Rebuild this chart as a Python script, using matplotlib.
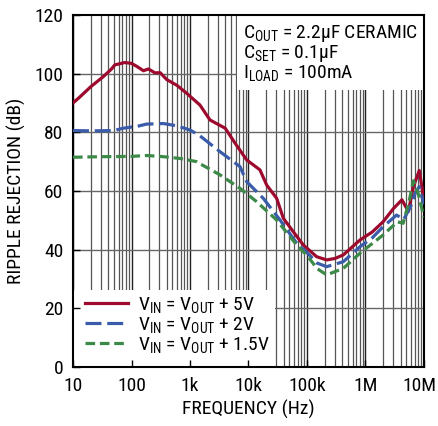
import numpy as np
import matplotlib
matplotlib.use('Agg')
import matplotlib.pyplot as plt
from matplotlib import font_manager
from matplotlib.patches import Rectangle
from matplotlib.transforms import ScaledTranslation

# pick a narrow sans if one is there
names = {f.name for f in font_manager.fontManager.ttflist}
cond = [(f.name, f.stretch) for f in font_manager.fontManager.ttflist
        if 'ondensed' in str(f.stretch) or 'arrow' in f.name or 'ondensed' in f.name]
font = 'Liberation Sans'
fs = 11.5
stretch = 'normal'
for cand in ['Liberation Sans Narrow', 'DejaVu Sans Condensed', 'Roboto Condensed']:
    if cand in names:
        font, fs = cand, 14
        break
else:
    for n, s in cond:
        font, fs, stretch = n, 14, 'condensed'
        break

plt.rcParams['font.family'] = [font, 'DejaVu Sans']
plt.rcParams['font.stretch'] = stretch
plt.rcParams['mathtext.fontset'] = 'custom'
plt.rcParams['mathtext.rm'] = font
plt.rcParams['mathtext.it'] = font
plt.rcParams['mathtext.bf'] = font

# ripple rejection vs frequency
f_5v = [10, 13, 20, 33, 45, 52, 77, 100, 125, 160, 195, 250, 310, 400, 600, 880,
        1480, 2200, 4000, 5900, 9300, 15700, 20500, 30300, 39400, 58400, 86500,
        146e3, 217e3, 300e3, 417e3, 805e3, 1.3e6, 2.0e6, 3.0e6, 4.2e6, 5.4e6,
        6.6e6, 8.3e6, 10e6]
db_5v = [90, 92, 95.5, 99, 101.5, 103, 103.8, 103.5, 102.4, 101, 101.6, 100.3,
         100.3, 98, 96, 93.3, 89.3, 84.2, 81.4, 76.3, 70.6, 67.2, 62, 57.5, 50.7,
         46.1, 41.6, 37.6, 36.5, 37, 38.2, 43.3, 46, 49.5, 54, 57, 53, 61.5, 67,
         57]

f_2v = [10, 20, 50, 72, 100, 123, 180, 350, 600, 1000, 1480, 3260, 7160, 9300,
        17900, 34600, 66700, 100e3, 150e3, 217e3, 417e3, 805e3, 1.3e6, 2.0e6,
        3.4e6, 4.5e6, 6.0e6, 7.0e6, 8.3e6, 10e6]
db_2v = [80.6, 80.5, 80.6, 81.4, 81.8, 82, 82.8, 83, 82.2, 80.8, 78.8, 73.4,
         68.3, 63.2, 57.5, 50.1, 42.2, 39, 35.4, 34.2, 35.9, 41, 44, 47.8, 51.8,
         50.3, 55, 59, 61.5, 55.5]

f_15v = [10, 30, 100, 181, 350, 670, 1300, 1480, 3260, 7160, 13700, 30300,
         66700, 100e3, 150e3, 217e3, 417e3, 805e3, 2.0e6, 3.5e6, 4.4e6, 5.5e6,
         6.6e6, 8.0e6, 10e6]
db_15v = [71.5, 71.7, 71.8, 72.1, 71.7, 71.1, 70, 69.3, 65.5, 60.9, 56.4, 50.1,
          41.6, 38, 33.5, 31.4, 33.6, 38.8, 45, 49.5, 49, 56, 63.5, 59, 51]

xticks = [10, 100, 1e3, 1e4, 1e5, 1e6, 1e7]
xticklabels = ['10', '100', '1k', '10k', '100k', '1M', '10M']
yticks = [0, 20, 40, 60, 80, 100, 120]

fig = plt.figure(figsize=(4.39, 4.26), dpi=100)
ax = fig.add_axes([0.1663, 0.1385, 0.7995, 0.8263])

# grid drawn by hand so the legend/notes boxes can hide it but not the ticks
for dec in range(1, 7):
    for m in range(1, 10):
        x = m * 10.0 ** dec
        if x > 1e7:
            break
        ax.axvline(x, color='#222' if m == 1 else '#555', lw=1.0 if m == 1 else 0.9,
                   zorder=0.8)
for y in yticks[1:-1]:
    ax.axhline(y, color='#666', lw=1.0, zorder=0.8)

ax.plot(f_5v, db_5v, color='#9e0a2e', lw=2.3, zorder=3,
        label=r'V$_{\mathrm{IN}}$ = V$_{\mathrm{OUT}}$ + 5V')
ax.plot(f_2v, db_2v, color='#3a5cab', lw=2.3, dashes=(5, 1.8), zorder=3,
        label=r'V$_{\mathrm{IN}}$ = V$_{\mathrm{OUT}}$ + 2V')
ax.plot(f_15v, db_15v, color='#3b8a48', lw=2.3, dashes=(3, 1.5), zorder=3,
        label=r'V$_{\mathrm{IN}}$ = V$_{\mathrm{OUT}}$ + 1.5V')

ax.set_xscale('log')
ax.set_xlim(10, 1e7)
ax.set_ylim(0, 120)
ax.set_xticks(xticks)
ax.set_xticklabels(xticklabels)
ax.set_yticks(yticks)
ax.tick_params(axis='both', which='both', direction='in', labelsize=fs, pad=7)
ax.tick_params(which='major', length=5, width=1)
ax.tick_params(which='minor', length=3.5, width=0.9)
ax.yaxis.set_minor_locator(matplotlib.ticker.NullLocator())
for s in ax.spines.values():
    s.set_linewidth(1.5)

# nudge "10M" so it stays inside the picture
last = ax.get_xticklabels()[-1]
last.set_transform(last.get_transform() + ScaledTranslation(-3 / 72, 0, fig.dpi_scale_trans))

ax.set_xlabel('FREQUENCY (Hz)', fontsize=fs, labelpad=4)
ax.set_ylabel('RIPPLE REJECTION (dB)', fontsize=fs, labelpad=6)

# white boxes behind legend and notes
ax.add_patch(Rectangle((0, 0), 0.575, 0.219, transform=ax.transAxes,
                       facecolor='white', edgecolor='none', zorder=1))
ax.add_patch(Rectangle((0.467, 0.787), 0.533, 0.213, transform=ax.transAxes,
                       facecolor='white', edgecolor='none', zorder=1))

ax.text(0.484, 0.978, 'C$_{\\mathrm{OUT}}$ = 2.2µF CERAMIC\nC$_{\\mathrm{SET}}$ = 0.1µF\n'
        'I$_{\\mathrm{LOAD}}$ = 100mA', transform=ax.transAxes, fontsize=fs,
        va='top', ha='left', linespacing=0.95, zorder=4)

leg = ax.legend(loc='lower left', bbox_to_anchor=(0.035, 0.035), frameon=False,
                fontsize=fs, handlelength=2.2, handletextpad=0.5,
                labelspacing=0.0, borderpad=0, borderaxespad=0)
leg.set_zorder(4)

fig.savefig('out.png', dpi=100)
